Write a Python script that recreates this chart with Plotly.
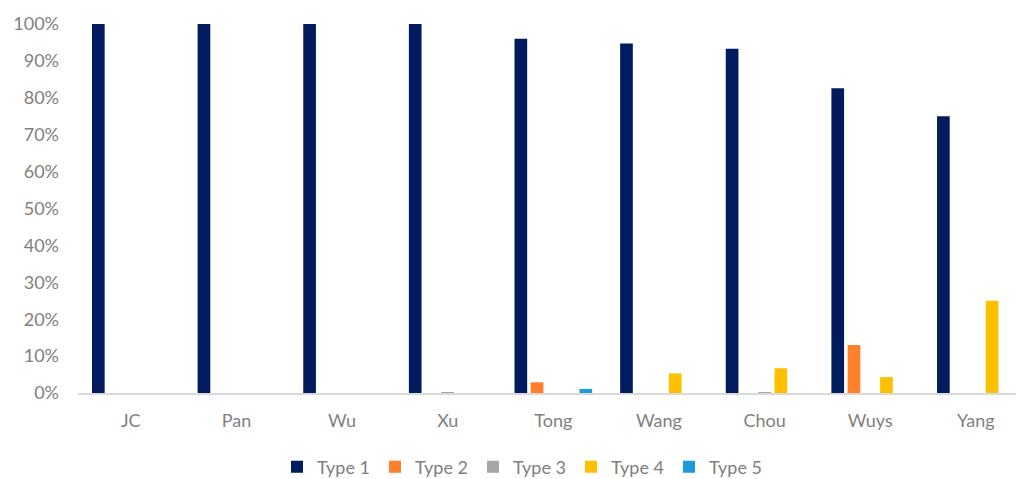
import plotly.graph_objects as go

# Share of each type per site (percent)
sites = ["JC", "Pan", "Wu", "Xu", "Tong", "Wang", "Chou", "Wuys", "Yang"]
type1 = [100, 100, 100, 100, 96.0, 94.7, 93.3, 82.6, 75.0]
type2 = [0, 0, 0, 0, 2.9, 0, 0, 13.0, 0]
type3 = [0, 0, 0, 0.15, 0, 0, 0.15, 0, 0]
type4 = [0, 0, 0, 0, 0, 5.3, 6.7, 4.3, 25.0]
type5 = [0, 0, 0, 0, 1.1, 0, 0, 0, 0]

series_names = ["Type 1", "Type 2", "Type 3", "Type 4", "Type 5"]
series_values = [type1, type2, type3, type4, type5]
series_colors = ["#001B5E", "#FF7F2A", "#A5A5A5", "#FFC000", "#1B9BD8"]

y_ticks = [i / 100 for i in range(0, 101, 10)]
y_tick_text = [f"{i}%" for i in range(0, 101, 10)]

FONT = "Lato, 'Open Sans', sans-serif"
GREY = "#7F7F7F"

fig = go.Figure()
for name, vals, col in zip(series_names, series_values, series_colors):
    fig.add_trace(go.Bar(
        x=sites,
        y=[v / 100 for v in vals],
        name=name,
        marker=dict(color=col, line=dict(width=0)),
    ))

fig.update_layout(
    width=1016,
    height=479,
    barmode="group",
    bargap=0.231,
    bargroupgap=0.22,
    plot_bgcolor="white",
    paper_bgcolor="white",
    margin=dict(l=78, r=0, t=24, b=86),
    font=dict(family=FONT, size=18, color=GREY),
    showlegend=True,
    legend=dict(
        orientation="h",
        xref="container",
        yref="container",
        x=522 / 1016,
        xanchor="center",
        y=1 - 467 / 479,
        yanchor="middle",
        font=dict(family=FONT, size=18, color=GREY),
        itemwidth=30,
        traceorder="normal",
    ),
    xaxis=dict(
        range=[-0.5, 8.38],
        showline=True,
        linecolor="#D9D9D9",
        linewidth=1.5,
        showgrid=False,
        ticks="",
        ticklabelstandoff=11,
        tickfont=dict(family=FONT, size=18, color=GREY),
    ),
    yaxis=dict(
        range=[0, 1.0],
        tickvals=y_ticks,
        ticktext=y_tick_text,
        showgrid=False,
        zeroline=False,
        showline=False,
        ticks="",
        ticklabelstandoff=18,
        tickfont=dict(family=FONT, size=18, color=GREY),
    ),
)

fig.write_html("out.html")
